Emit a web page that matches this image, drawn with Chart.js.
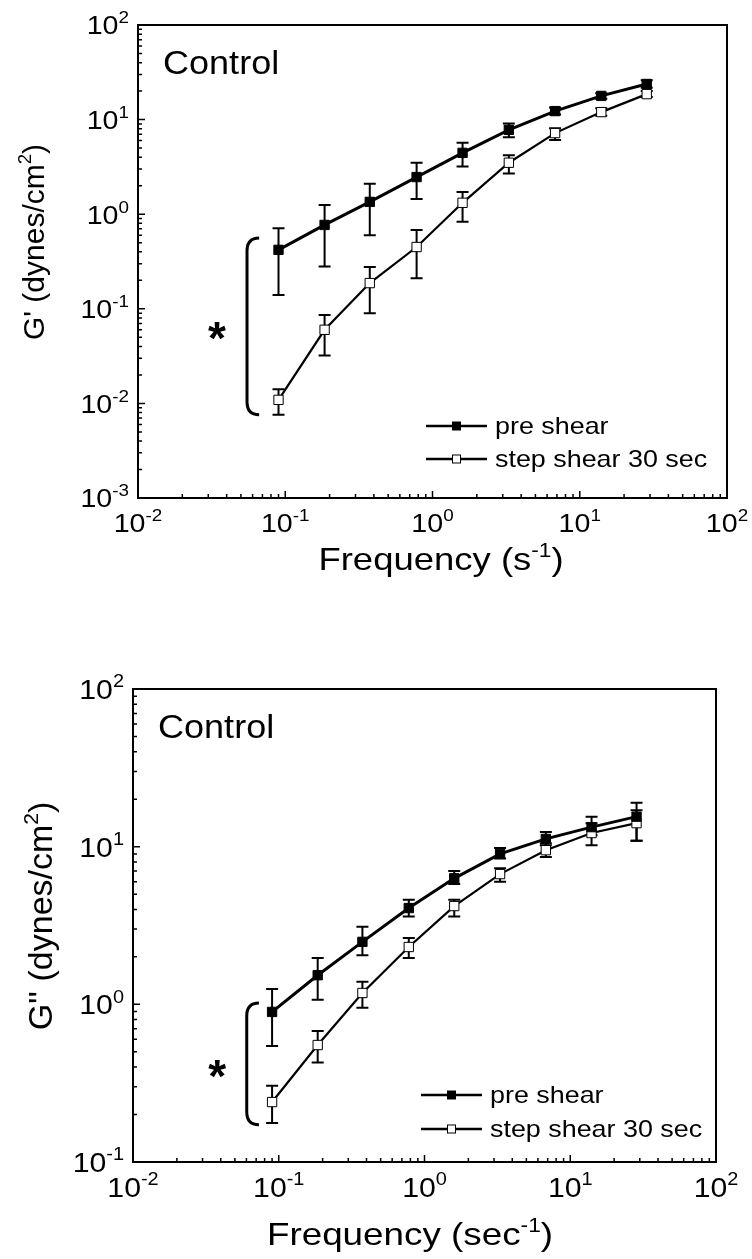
<!DOCTYPE html>
<html>
<head>
<meta charset="utf-8">
<script src="https://cdn.jsdelivr.net/npm/chart.js@4.4.1/dist/chart.umd.min.js"></script>
<style>
body { margin: 0; background: #fff; }
canvas { position: absolute; left: 0; }
#topChart { top: 0; }
#bottomChart { top: 620px; }
</style>
</head>
<body>
<canvas id="topChart" width="752" height="620"></canvas>
<canvas id="bottomChart" width="752" height="639"></canvas>
<script>
// frequencies (s^-1), same for both panels
const frequency = [0.09, 0.185, 0.375, 0.78, 1.6, 3.3, 6.8, 14, 28.5];

// G' panel
const gPrimePre = [0.42, 0.77, 1.35, 2.47, 4.45, 7.8, 12.3, 17.8, 23.8];
const gPrimePreHi = [0.71, 1.25, 2.1, 3.5, 5.7, 9.1, 13.4, 19, 26];
const gPrimePreLo = [0.14, 0.28, 0.6, 1.45, 3.2, 6.5, 11.3, 16.6, 21.7];
const gPrimeStep = [0.0109, 0.06, 0.187, 0.45, 1.32, 3.5, 7.2, 12.0, 18.6];
const gPrimeStepHi = [0.0141, 0.086, 0.277, 0.68, 1.72, 4.2, 8.1, 13.2, 20];
const gPrimeStepLo = [0.0076, 0.032, 0.09, 0.21, 0.83, 2.7, 6.1, 11.0, 17.3];

// G'' panel
const gDoublePre = [0.895, 1.53, 2.49, 4.08, 6.3, 9.0, 11.2, 13.3, 15.5];
const gDoublePreHi = [1.25, 1.97, 3.1, 4.6, 7.0, 9.8, 12.4, 15.5, 19];
const gDoublePreLo = [0.545, 1.07, 2.05, 3.6, 5.8, 8.4, 10.2, 11.8, 10.9];
const gDoubleStep = [0.24, 0.552, 1.18, 2.31, 4.2, 6.7, 9.5, 12.2, 14.1];
const gDoubleStepHi = [0.304, 0.677, 1.39, 2.63, 4.6, 7.3, 10.5, 14.1, 17];
const gDoubleStepLo = [0.177, 0.427, 0.95, 1.97, 3.6, 6.0, 8.6, 10.2, 10.9];

const seriesNames = ['pre shear', 'step shear 30 sec'];
const xTickExponents = [-2, -1, 0, 1, 2];
const yTickExponentsTop = [-3, -2, -1, 0, 1, 2];
const yTickExponentsBottom = [-1, 0, 1, 2];

const family = '"Liberation Sans", Arial, sans-serif';

function drawRich(ctx, parts, x, y, size, sx, align, supRatio) {
    const sr = supRatio || 0.62;
    ctx.save();
    let w = 0;
    parts.forEach(p => {
        ctx.font = (p[1] ? size * sr : size) + 'px ' + family;
        w += ctx.measureText(p[0]).width;
    });
    let start = x;
    if (align === 'center') start = x - w * sx / 2;
    if (align === 'right') start = x - w * sx;
    ctx.translate(start, y);
    ctx.scale(sx, 1);
    ctx.textAlign = 'left';
    ctx.textBaseline = 'alphabetic';
    ctx.fillStyle = '#000';
    let cx = 0;
    parts.forEach(p => {
        ctx.font = (p[1] ? size * sr : size) + 'px ' + family;
        ctx.fillText(p[0], cx, p[1] ? -size * 0.42 : 0);
        cx += ctx.measureText(p[0]).width;
    });
    ctx.restore();
}

function makeChart(id, cfg) {
    const points = arr => frequency.map((f, i) => ({x: f, y: arr[i]}));

    const errorBars = {
        id: 'errorBars',
        beforeDatasetsDraw(chart) {
            const ctx = chart.ctx;
            const xs = chart.scales.x, ys = chart.scales.y;
            ctx.save();
            ctx.strokeStyle = '#000';
            ctx.lineWidth = 2;
            [[cfg.preLo, cfg.preHi], [cfg.stepLo, cfg.stepHi]].forEach(pair => {
                for (let i = 0; i < frequency.length; i += 1) {
                    const px = xs.getPixelForValue(frequency[i]);
                    const lo = ys.getPixelForValue(pair[0][i]);
                    const hi = ys.getPixelForValue(pair[1][i]);
                    ctx.beginPath();
                    ctx.moveTo(px, lo); ctx.lineTo(px, hi);
                    ctx.moveTo(px - 6, lo); ctx.lineTo(px + 6, lo);
                    ctx.moveTo(px - 6, hi); ctx.lineTo(px + 6, hi);
                    ctx.stroke();
                }
            });
            ctx.restore();
        }
    };

    const frame = {
        id: 'frame',
        afterDraw(chart) {
            const ctx = chart.ctx;
            const a = chart.chartArea;
            const xs = chart.scales.x, ys = chart.scales.y;
            ctx.save();
            ctx.strokeStyle = '#000';
            ctx.lineWidth = 2;
            ctx.strokeRect(a.left, a.top, a.right - a.left, a.bottom - a.top);

            // inward ticks
            ctx.lineWidth = 1.5;
            ctx.beginPath();
            for (let e = -2; e < 2; e += 1) {
                for (let m = 1; m < 10; m += 1) {
                    const px = xs.getPixelForValue(m * Math.pow(10, e));
                    const len = m === 1 ? 7 : 4;
                    ctx.moveTo(px, a.bottom); ctx.lineTo(px, a.bottom - len);
                }
            }
            for (let e = cfg.yTicks[0]; e < 2; e += 1) {
                for (let m = 1; m < 10; m += 1) {
                    const py = ys.getPixelForValue(m * Math.pow(10, e));
                    const len = m === 1 ? 7 : 4;
                    ctx.moveTo(a.left, py); ctx.lineTo(a.left + len, py);
                }
            }
            ctx.stroke();

            // tick labels
            xTickExponents.forEach(e => {
                const px = xs.getPixelForValue(Math.pow(10, e));
                drawRich(ctx, [['10', false], [String(e), true]], px, a.bottom + cfg.xLabelOffset, cfg.tickSize, cfg.sx, 'center', 0.66);
            });
            cfg.yTicks.forEach(e => {
                const py = ys.getPixelForValue(Math.pow(10, e));
                drawRich(ctx, [['10', false], [String(e), true]], a.left - 9, py + cfg.tickSize * 0.36, cfg.tickSize, cfg.sx, 'right', 0.66);
            });

            // axis titles
            drawRich(ctx, cfg.xTitle, cfg.xTitlePos[0], cfg.xTitlePos[1], cfg.titleSize, cfg.titleSx, 'center');
            ctx.save();
            ctx.translate(cfg.yTitlePos[0], cfg.yTitlePos[1]);
            ctx.rotate(-Math.PI / 2);
            drawRich(ctx, cfg.yTitle, 0, 0, cfg.yTitleSize, 1, 'center');
            ctx.restore();

            // panel label
            drawRich(ctx, [['Control', false]], a.left + 25, a.top + 49, 34, 1.06, 'left');

            // legend
            const lx = a.right - cfg.legend[0];
            const tx = a.right - cfg.legend[1];
            for (let k = 0; k < 2; k += 1) {
                const ly = a.bottom - cfg.legend[2] + k * cfg.legend[3];
                ctx.lineWidth = 2.5;
                ctx.beginPath();
                ctx.moveTo(lx, ly); ctx.lineTo(lx + 61, ly);
                ctx.stroke();
                ctx.fillStyle = k === 0 ? '#000' : '#fff';
                ctx.lineWidth = 1;
                ctx.fillRect(lx + 26.5, ly - 4, 8, 8);
                ctx.strokeRect(lx + 26.5, ly - 4, 8, 8);
                drawRich(ctx, [[seriesNames[k], false]], tx, ly + 8, 24, 1.12, 'left');
            }

            // significance bracket and asterisk
            const bx = xs.getPixelForValue(cfg.bracket[0]);
            const ex = xs.getPixelForValue(cfg.bracket[1]);
            const yt = ys.getPixelForValue(cfg.bracket[2]);
            const yb = ys.getPixelForValue(cfg.bracket[3]);
            ctx.lineWidth = 3;
            ctx.beginPath();
            ctx.moveTo(ex, yt);
            ctx.quadraticCurveTo(bx, yt, bx, yt + 13);
            ctx.lineTo(bx, yb - 13);
            ctx.quadraticCurveTo(bx, yb, ex, yb);
            ctx.stroke();
            const sxp = xs.getPixelForValue(cfg.star[0]);
            const syp = ys.getPixelForValue(cfg.star[1]);
            ctx.fillStyle = '#000';
            ctx.font = 'bold 46px ' + family;
            ctx.textAlign = 'center';
            ctx.textBaseline = 'alphabetic';
            ctx.fillText('*', sxp, syp + 46 * 0.57);
            ctx.restore();
        }
    };

    const ctx = document.getElementById(id).getContext('2d');
    return new Chart(ctx, {
        type: 'line',
        data: {
            datasets: [{
                label: seriesNames[0],
                data: points(cfg.pre),
                borderColor: '#000',
                borderWidth: 3,
                pointStyle: 'rect',
                pointRadius: 6.6,
                pointBackgroundColor: '#000',
                pointBorderColor: '#000',
                pointBorderWidth: 1,
                tension: 0
            }, {
                label: seriesNames[1],
                data: points(cfg.step),
                borderColor: '#000',
                borderWidth: 2.2,
                pointStyle: 'rect',
                pointRadius: 6.6,
                pointBackgroundColor: '#fff',
                pointBorderColor: '#000',
                pointBorderWidth: 1,
                tension: 0
            }]
        },
        options: {
            responsive: false,
            animation: false,
            layout: {padding: cfg.padding},
            plugins: {legend: {display: false}, tooltip: {enabled: false}},
            scales: {
                x: {type: 'logarithmic', min: 0.01, max: 100, display: false},
                y: {type: 'logarithmic', min: Math.pow(10, cfg.yTicks[0]), max: 100, display: false}
            }
        },
        plugins: [errorBars, frame]
    });
}

makeChart('topChart', {
    pre: gPrimePre, preHi: gPrimePreHi, preLo: gPrimePreLo,
    step: gPrimeStep, stepHi: gPrimeStepHi, stepLo: gPrimeStepLo,
    yTicks: yTickExponentsTop,
    padding: {left: 138, top: 25, right: 25, bottom: 122},
    tickSize: 26, sx: 1.1, xLabelOffset: 34,
    xTitle: [['Frequency (s', false], ['-1', true], [')', false]],
    xTitlePos: [441, 570], titleSize: 32, titleSx: 1.14,
    yTitle: [["G' (dynes/cm", false], ['2', true], [')', false]],
    yTitlePos: [44, 242], yTitleSize: 30,
    legend: [301, 232, 72, 33],
    bracket: [0.055, 0.0665, 0.56, 0.0076],
    star: [0.0344, 0.063]
});

makeChart('bottomChart', {
    pre: gDoublePre, preHi: gDoublePreHi, preLo: gDoublePreLo,
    step: gDoubleStep, stepHi: gDoubleStepHi, stepLo: gDoubleStepLo,
    yTicks: yTickExponentsBottom,
    padding: {left: 133, top: 69, right: 36, bottom: 97},
    tickSize: 28, sx: 1.08, xLabelOffset: 35,
    xTitle: [['Frequency (sec', false], ['-1', true], [')', false]],
    xTitlePos: [410, 625], titleSize: 32, titleSx: 1.15,
    yTitle: [["G'' (dynes/cm", false], ['2', true], [')', false]],
    yTitlePos: [52, 296], yTitleSize: 34,
    legend: [295, 226, 67, 34],
    bracket: [0.0603, 0.0731, 1.02, 0.172],
    star: [0.0378, 0.407]
});
</script>
</body>
</html>
